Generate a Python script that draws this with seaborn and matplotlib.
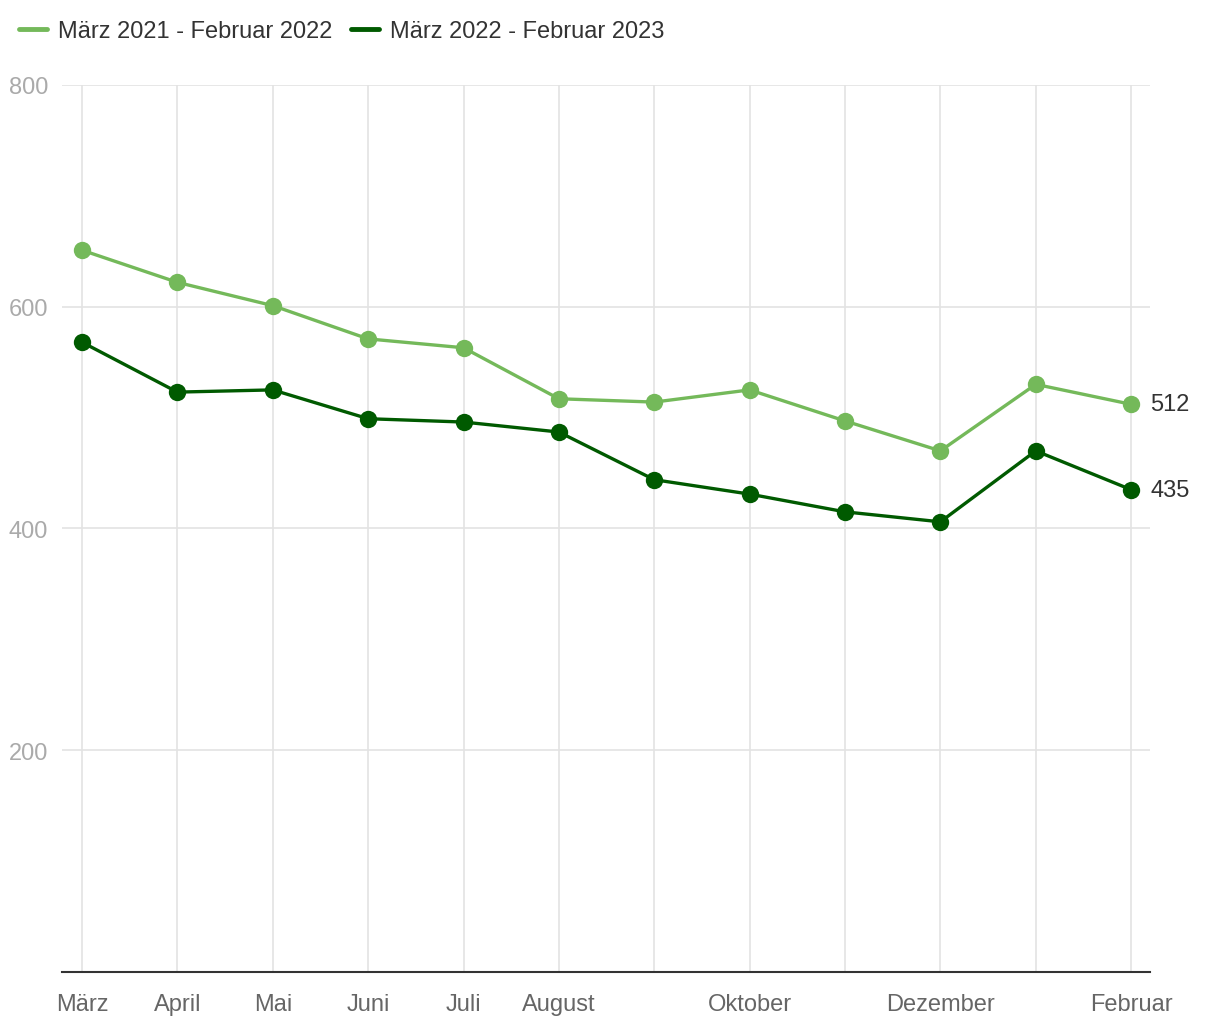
import pandas as pd
import matplotlib.pyplot as plt
import seaborn as sns

# Data
months = ["März", "April", "Mai", "Juni", "Juli", "August", "September",
          "Oktober", "November", "Dezember", "Januar", "Februar"]
shown_labels = ["März", "April", "Mai", "Juni", "Juli", "August", "",
                "Oktober", "", "Dezember", "", "Februar"]
series_names = ["März 2021 - Februar 2022", "März 2022 - Februar 2023"]
values_2021 = [651, 622, 601, 571, 563, 517, 514, 525, 497, 470, 530, 512]
values_2022 = [568, 523, 525, 499, 496, 487, 444, 431, 415, 406, 470, 435]
colors = ["#74b95a", "#005a00"]

df = pd.DataFrame({
    "idx": list(range(12)) * 2,
    "value": values_2021 + values_2022,
    "series": [series_names[0]] * 12 + [series_names[1]] * 12,
})

sns.set_style("white")
plt.rcParams['font.family'] = ['Liberation Sans', 'DejaVu Sans']

fig = plt.figure(figsize=(12.2, 10.2), dpi=100)
ax = fig.add_axes([0.0508, 0.0461, 0.892, 0.8696])

sns.lineplot(data=df, x="idx", y="value", hue="series", palette=colors,
             marker="o", markersize=12.5, markeredgewidth=0, linewidth=2.4,
             ax=ax, legend=False)

ax.set_xlim(-0.21, 11.2)
ax.set_ylim(0, 800)
ax.set_xticks(range(12))
ax.set_xticklabels(shown_labels)
ax.set_yticks([200, 400, 600, 800])
ax.grid(True, color="#e3e3e3", linewidth=1.2)
ax.set_axisbelow(True)
for s in ["top", "right", "left"]:
    ax.spines[s].set_visible(False)
ax.spines["bottom"].set_color("#333333")
ax.spines["bottom"].set_linewidth(1.5)
ax.tick_params(axis="x", length=0, pad=15, labelsize=17, labelcolor="#666666")
ax.tick_params(axis="y", length=0, pad=10, labelsize=17, labelcolor="#aaaaaa")
ax.set_xlabel("")
ax.set_ylabel("")

# End labels
ax.text(11.2, values_2021[-1], str(values_2021[-1]), va="center", ha="left",
        fontsize=17, color="#333333")
ax.text(11.2, values_2022[-1], str(values_2022[-1]), va="center", ha="left",
        fontsize=17, color="#333333")

# Legend
handles = [plt.Line2D([], [], color=c, linewidth=3.5) for c in colors]
fig.legend(handles, series_names, loc="upper left", bbox_to_anchor=(-0.002, 1.0),
           ncol=2, frameon=False, fontsize=17, handlelength=1.2,
           handletextpad=0.45, columnspacing=0.8, labelcolor="#333333")

fig.savefig("out.png", dpi=100)
